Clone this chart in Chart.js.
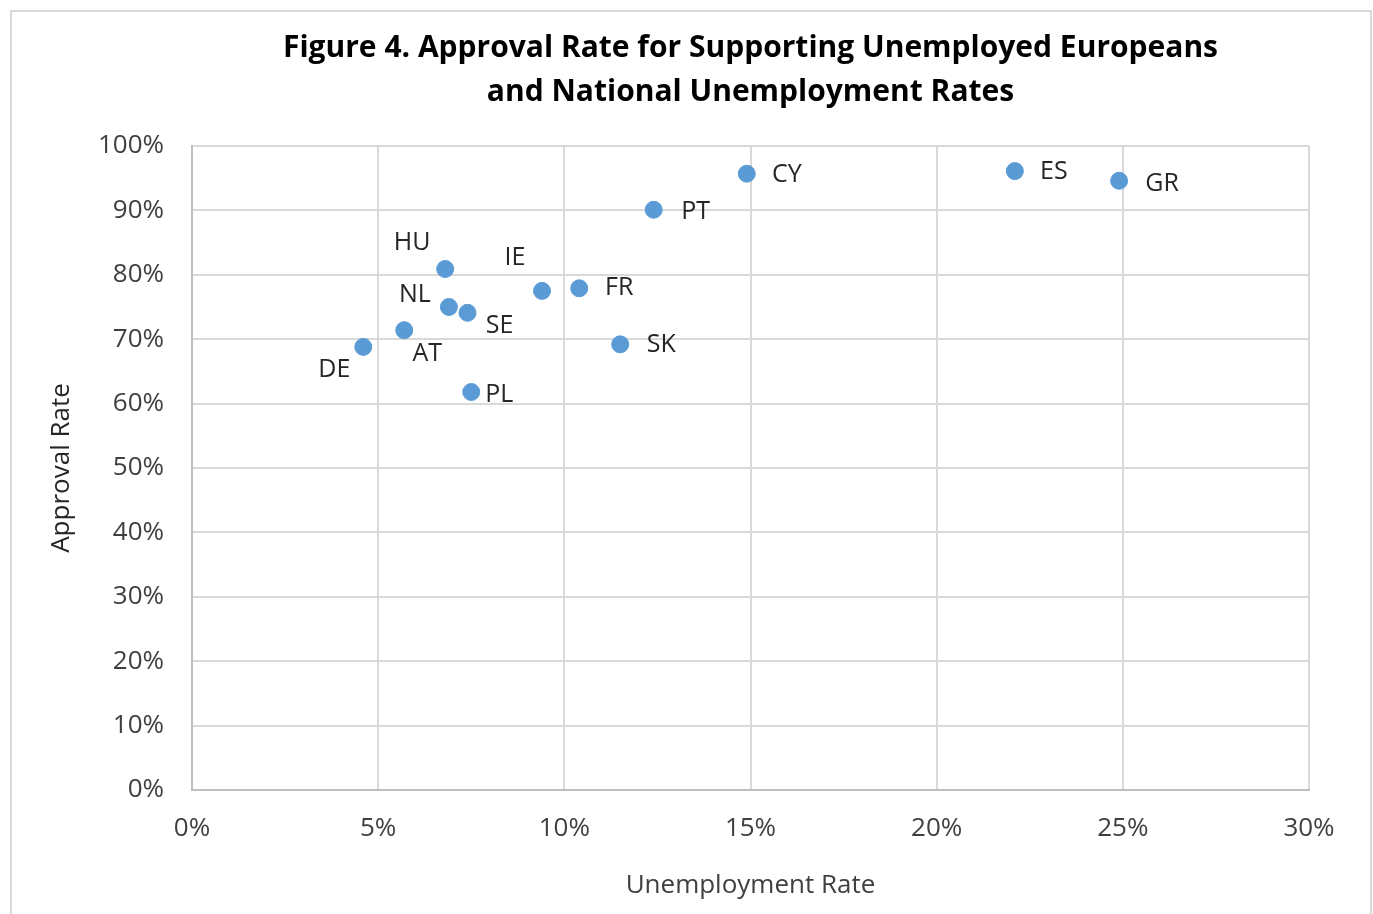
<!DOCTYPE html>
<html>
<head>
<meta charset="utf-8">
<script src="https://cdn.jsdelivr.net/npm/chart.js@4.4.1/dist/chart.umd.min.js"></script>
<style>
  body { margin: 0; background: #fff; overflow: hidden; }
  #marco { position: absolute; left: 10px; top: 10px; width: 1358px; height: 940px; border: 2px solid #d9d9d9; }
  #grafico { position: absolute; left: 0; top: 0; }
</style>
</head>
<body>
<div id="marco"></div>
<canvas id="grafico" width="1373" height="914"></canvas>
<script>
// datos
let paises = ['DE', 'AT', 'HU', 'NL', 'SE', 'PL', 'IE', 'FR', 'SK', 'PT', 'CY', 'ES', 'GR']
let desempleo = [4.6, 5.7, 6.8, 6.9, 7.4, 7.5, 9.4, 10.4, 11.5, 12.4, 14.9, 22.1, 24.9]
let aprobacion = [68.8, 71.4, 80.9, 75.0, 74.1, 61.8, 77.5, 77.9, 69.2, 90.1, 95.7, 96.1, 94.6]
let ticksX = [0, 5, 10, 15, 20, 25, 30]
let ticksY = [0, 10, 20, 30, 40, 50, 60, 70, 80, 90, 100]

let titulo = ['Figure 4. Approval Rate for Supporting Unemployed Europeans', 'and National Unemployment Rates']

let fuente = '"Open Sans", sans-serif'

// donde va cada etiqueta respecto a su punto
let desplaza = {
    DE: [-29, 23], AT: [23, 24], HU: [-33, -26], NL: [-34, -12], SE: [32, 13],
    PL: [28, 3], IE: [-27, -33], FR: [40, 0], SK: [41, 1], PT: [42, 2],
    CY: [40, 1], ES: [39, 1], GR: [43, 3]
}

let puntos = desempleo.map((x, i) => ({ x: x, y: aprobacion[i], pais: paises[i] }))

let etiquetas = {
    id: 'etiquetas',
    afterDatasetsDraw(chart) {
        let ctx = chart.ctx
        let meta = chart.getDatasetMeta(0)
        ctx.save()
        ctx.font = '25px ' + fuente
        ctx.fillStyle = '#262626'
        ctx.textAlign = 'center'
        ctx.textBaseline = 'middle'
        meta.data.forEach((p, i) => {
            let d = desplaza[paises[i]]
            ctx.fillText(paises[i], p.x + d[0], p.y + d[1])
        })
        // titulo centrado sobre el area del grafico
        let area = chart.chartArea
        let cx = (area.left + area.right) / 2
        ctx.font = 'bold 30px ' + fuente
        ctx.fillStyle = '#000'
        ctx.fillText(titulo[0], cx, 48)
        ctx.fillText(titulo[1], cx, 92)
        ctx.restore()
    }
}

new Chart(document.querySelector('#grafico'), {
    type: 'scatter',
    data: {
        datasets: [{
            data: puntos,
            backgroundColor: '#5b9bd5',
            borderColor: '#5b9bd5',
            pointRadius: 8.5,
            pointHoverRadius: 8.5
        }]
    },
    options: {
        responsive: false,
        animation: false,
        layout: { padding: { left: 0, right: 64, top: 146, bottom: 0 } },
        plugins: {
            legend: { display: false },
            tooltip: { enabled: false }
        },
        scales: {
            x: {
                type: 'linear',
                min: 0, max: 30,
                afterBuildTicks: s => { s.ticks = ticksX.map(v => ({ value: v })) },
                afterFit: s => { s.height = 124 },
                grid: { color: '#d9d9d9', lineWidth: 2, drawTicks: false },
                border: { color: '#bfbfbf', width: 2 },
                ticks: { padding: 23, color: '#404040', font: { family: fuente, size: 26 }, callback: v => v + '%' },
                title: { display: true, text: 'Unemployment Rate', color: '#404040', padding: { bottom: 13 }, font: { family: fuente, size: 26 } }
            },
            y: {
                type: 'linear',
                min: 0, max: 100,
                afterBuildTicks: s => { s.ticks = ticksY.map(v => ({ value: v })) },
                afterFit: s => { s.width = 192 },
                grid: { color: '#d9d9d9', lineWidth: 2, drawTicks: false },
                border: { color: '#bfbfbf', width: 2 },
                ticks: { padding: 28, color: '#404040', font: { family: fuente, size: 26 }, callback: v => v + '%' },
                title: { display: true, text: 'Approval Rate', color: '#262626', padding: { top: 46 }, font: { family: fuente, size: 26 } }
            }
        }
    },
    plugins: [etiquetas]
})
</script>
</body>
</html>
